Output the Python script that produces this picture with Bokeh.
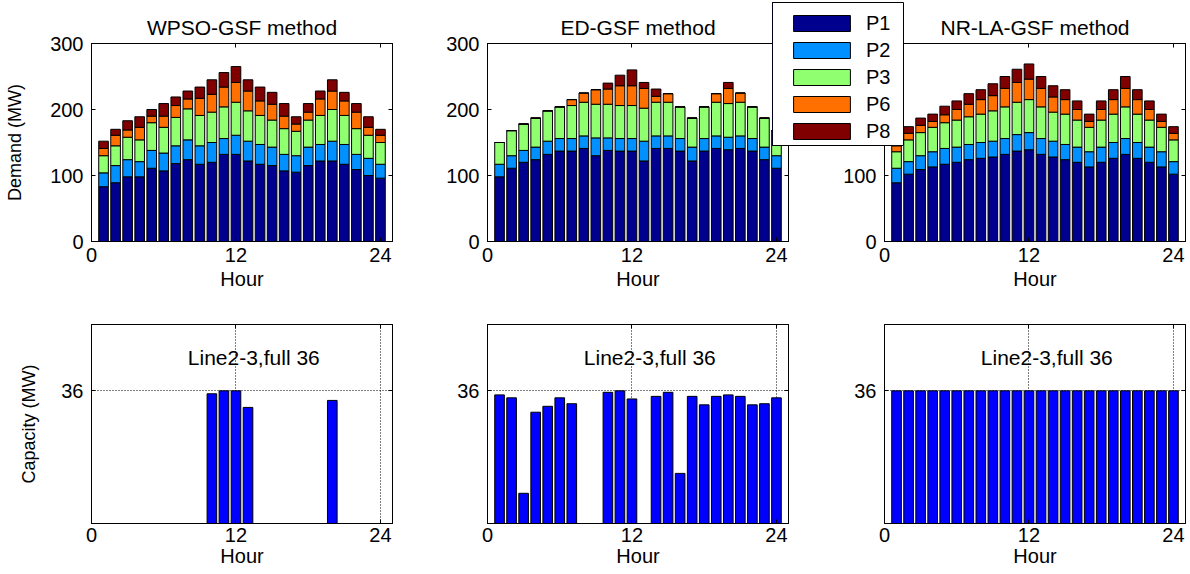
from bokeh.plotting import figure
from bokeh.models import (ColumnDataSource, Range1d, LinearAxis, FixedTicker,
                          Legend, LegendItem, Label)
from bokeh.layouts import row, column
from bokeh.embed import file_html
from bokeh.resources import INLINE

FONT = "Liberation Sans"

hours = list(range(1, 25))
gens = ["P1", "P2", "P3", "P6", "P8"]
gen_colors = ["#00008F", "#0090FF", "#90FF70", "#FF7000", "#800000"]

# ---- WPSO-GSF method (stack components, MW) ----
wpso_p1 = [83, 89, 98, 98, 111, 107, 118, 124, 117, 120, 132, 132, 122, 117, 115, 107, 105, 115, 122, 122, 117, 109, 100, 96]
wpso_p2 = [21, 26, 26, 23, 27, 27, 27, 30, 28, 30, 24, 29, 30, 30, 28, 25, 25, 28, 25, 30, 30, 23, 26, 21]
wpso_p3 = [26, 30, 34, 33, 42, 39, 43, 47, 46, 46, 48, 50, 46, 44, 41, 39, 37, 41, 44, 48, 44, 39, 35, 33]
wpso_p6 = [11, 16, 11, 19, 10, 17, 18, 15, 26, 27, 30, 30, 30, 22, 24, 19, 11, 12, 25, 28, 22, 25, 12, 11]
wpso_p8 = [11, 9, 14, 16, 10, 19, 13, 12, 17, 22, 22, 24, 17, 21, 18, 19, 11, 13, 12, 17, 13, 13, 16, 9]

# ---- ED-GSF method ----
ed_p1 = [98, 111, 120, 124, 132, 137, 137, 141, 130, 138, 137, 137, 122, 141, 141, 137, 122, 137, 141, 139, 141, 137, 124, 111]
ed_p2 = [19, 19, 18, 19, 20, 19, 19, 19, 27, 19, 19, 19, 30, 19, 19, 19, 21, 19, 19, 19, 19, 19, 19, 19]
ed_p3 = [33, 38, 40, 44, 46, 48, 50, 51, 51, 51, 50, 50, 50, 51, 51, 48, 44, 48, 51, 51, 51, 48, 44, 38]
ed_p6 = [0, 0, 0, 0, 0, 0, 9, 14, 22, 23, 30, 30, 30, 9, 13, 0, 0, 0, 13, 23, 14, 0, 0, 0]
ed_p8 = [0, 0, 0, 0, 0, 0, 0, 0, 0, 9, 16, 24, 9, 11, 0, 0, 0, 0, 0, 9, 0, 0, 0, 0]

# ---- NR-LA-GSF method ----
nr_p1 = [89, 102, 109, 113, 117, 120, 124, 126, 128, 132, 137, 139, 132, 128, 124, 120, 113, 120, 126, 132, 126, 120, 113, 102]
nr_p2 = [22, 19, 21, 23, 24, 23, 23, 24, 24, 24, 25, 26, 24, 24, 23, 23, 23, 23, 24, 24, 24, 23, 23, 19]
nr_p3 = [25, 33, 35, 37, 39, 41, 42, 43, 46, 48, 49, 50, 48, 44, 46, 41, 37, 41, 43, 48, 43, 41, 37, 33]
nr_p6 = [9, 10, 11, 9, 12, 16, 19, 22, 23, 28, 30, 31, 28, 23, 22, 16, 9, 16, 22, 28, 22, 16, 9, 10]
nr_p8 = [10, 10, 11, 11, 13, 13, 16, 15, 18, 18, 20, 23, 18, 17, 15, 13, 11, 13, 15, 18, 15, 13, 11, 10]

# ---- Line 2-3 capacity (MW) ----
wpso_line = [0, 0, 0, 0, 0, 0, 0, 0, 0, 35.2, 36, 36, 31.5, 0, 0, 0, 0, 0, 0, 33.4, 0, 0, 0, 0]
ed_line = [34.9, 34.1, 8.2, 30.2, 31.8, 34.1, 32.5, 0, 0, 35.6, 36, 33.8, 0, 34.5, 35.6, 13.6,
           34.5, 32.2, 34.5, 34.9, 34.5, 32.2, 32.5, 34.1]
nr_line = [36, 36, 36, 36, 36, 36, 36, 36, 36, 36, 36, 36, 36, 36, 36, 36, 36, 36, 36, 36, 36, 36, 36, 36]

titles = ["WPSO-GSF method", "ED-GSF method", "NR-LA-GSF method"]
x_ticks = [0, 12, 24]
demand_ticks = [0, 100, 200, 300]
cap_ticks = [36]
line_note = "Line2-3,full 36"


def style_axis(ax, size="20px"):
    ax.major_label_text_font = FONT
    ax.major_label_text_font_size = size
    ax.major_label_text_color = "black"
    ax.axis_label_text_font = FONT
    ax.axis_label_text_font_style = "normal"
    ax.axis_label_text_color = "black"
    ax.axis_line_color = "black"
    ax.major_tick_line_color = "black"
    ax.major_tick_in = 4
    ax.major_tick_out = 0
    ax.minor_tick_in = 0
    ax.minor_tick_out = 0


def base_fig(width, height, lb, rb, tb, bb, y_end, xt, yt, title=None):
    kw = dict(width=width, height=height, x_range=Range1d(0, 25), y_range=Range1d(0, y_end),
              output_backend="svg", toolbar_location=None,
              min_border_left=lb, min_border_right=rb, min_border_top=tb, min_border_bottom=bb)
    if title is not None:
        kw["title"] = title
    p = figure(**kw)
    p.outline_line_color = "black"
    p.outline_line_alpha = 1
    p.outline_line_width = 1
    p.background_fill_color = "white"
    p.border_fill_color = "white"
    xa = p.below[0]
    ya = p.left[0]
    xa.ticker = FixedTicker(ticks=xt, minor_ticks=[])
    ya.ticker = FixedTicker(ticks=yt, minor_ticks=[])
    style_axis(xa)
    style_axis(ya)
    xa.major_label_standoff = 6
    ya.major_label_standoff = 8
    # tick marks on the top and right edges (box on)
    top_ax = LinearAxis(ticker=FixedTicker(ticks=xt, minor_ticks=[]),
                        major_label_overrides={t: "" for t in xt})
    right_ax = LinearAxis(ticker=FixedTicker(ticks=yt, minor_ticks=[]),
                          major_label_overrides={t: "" for t in yt})
    for ax in (top_ax, right_ax):
        style_axis(ax, size="1px")
        ax.major_label_standoff = 0
    p.add_layout(top_ax, "above")
    p.add_layout(right_ax, "right")
    if title is not None:
        p.title.text_font = FONT
        p.title.text_font_size = "21px"
        p.title.text_font_style = "normal"
        p.title.text_color = "black"
        p.title.align = "center"
    return p, xa, ya


top_sets = [
    (wpso_p1, wpso_p2, wpso_p3, wpso_p6, wpso_p8),
    (ed_p1, ed_p2, ed_p3, ed_p6, ed_p8),
    (nr_p1, nr_p2, nr_p3, nr_p6, nr_p8),
]
# (width, left border, right border) per column
top_geom = [(440, 91, 48), (360, 47, 12), (390, 84, 5)]
bot_geom = [(440, 91, 48), (396, 47, 48), (354, 48, 5)]

top_figs = []
top_sources = []
for i, (vals, (w, lb, rb)) in enumerate(zip(top_sets, top_geom)):
    p, xa, ya = base_fig(w, 300, lb, rb, 43, 59, 300, x_ticks, demand_ticks, title=titles[i])
    p.xgrid.visible = False
    p.ygrid.visible = False
    xa.axis_label = "Hour"
    xa.axis_label_text_font_size = "20px"
    xa.axis_label_standoff = 3
    if i == 0:
        ya.axis_label = "Demand (MW)"
        ya.axis_label_text_font_size = "18px"
        ya.axis_label_standoff = 22
    data = dict(hour=hours)
    for g, v in zip(gens, vals):
        data[g] = v
    src = ColumnDataSource(data)
    top_sources.append(src)
    p.vbar_stack(gens, x="hour", width=0.8, fill_color=gen_colors,
                 line_color="black", line_width=1, source=src)
    top_figs.append(p)

# legend as its own small panel laid over the top row (its frame is the legend box);
# its bar renderers sit outside its visible x range and only feed the legend swatches
leg_fig = figure(width=132, height=245, x_range=Range1d(100, 101), y_range=Range1d(0, 1),
                 output_backend="svg", toolbar_location=None, min_border=0,
                 min_border_top=43, min_border_bottom=59,
                 x_axis_location=None, y_axis_location=None)
leg_fig.grid.visible = False
leg_fig.outline_line_color = "black"
leg_fig.outline_line_alpha = 1
leg_fig.outline_line_width = 1
leg_fig.background_fill_color = "white"
leg_fig.border_fill_color = None
leg_rs = leg_fig.vbar_stack(gens, x="hour", width=0.8, fill_color=gen_colors,
                            line_color="black", line_width=1, source=top_sources[2])
legend = Legend(items=[LegendItem(label=g, renderers=[r]) for g, r in zip(gens, leg_rs)],
                location=(14, 2))
legend.border_line_color = None
legend.background_fill_alpha = 0
legend.label_text_font = FONT
legend.label_text_font_size = "20px"
legend.label_text_color = "black"
legend.glyph_width = 71
legend.glyph_height = 20
legend.label_height = 24
legend.label_standoff = 9
legend.spacing = 3
legend.padding = 0
legend.margin = 0
leg_fig.add_layout(legend, "center")
leg_fig.margin = (-41, 0, 0, -418)

bot_sets = [wpso_line, ed_line, nr_line]
bot_figs = []
for i, (vals, (w, lb, rb)) in enumerate(zip(bot_sets, bot_geom)):
    p, xa, ya = base_fig(w, 274, lb, rb, 24, 51, 54, x_ticks, cap_ticks)
    p.xgrid.ticker = FixedTicker(ticks=x_ticks, minor_ticks=[])
    p.ygrid.ticker = FixedTicker(ticks=cap_ticks, minor_ticks=[])
    for gr in (p.xgrid[0], p.ygrid[0]):
        gr.grid_line_color = "black"
        gr.grid_line_alpha = 1
        gr.grid_line_width = 1
        gr.grid_line_dash = "1 2"
    xa.axis_label = "Hour"
    xa.axis_label_text_font_size = "20px"
    xa.axis_label_standoff = 0
    xa.major_label_standoff = 4
    if i == 0:
        ya.axis_label = "Capacity (MW)"
        ya.axis_label_text_font_size = "18px"
        ya.axis_label_standoff = 19
    src = ColumnDataSource(dict(hour=hours, cap=vals))
    p.vbar(x="hour", top="cap", bottom=0, width=0.8, source=src,
           fill_color="#0000FF", line_color="black", line_width=1)
    p.add_layout(Label(x=8, y=45, text=line_note, text_align="left", text_baseline="middle",
                       text_font=FONT, text_font_size="21px", text_color="black"))
    bot_figs.append(p)

layout = column(row(*top_figs, leg_fig), row(*bot_figs))

open("out.html", "w").write(file_html(layout, INLINE))
